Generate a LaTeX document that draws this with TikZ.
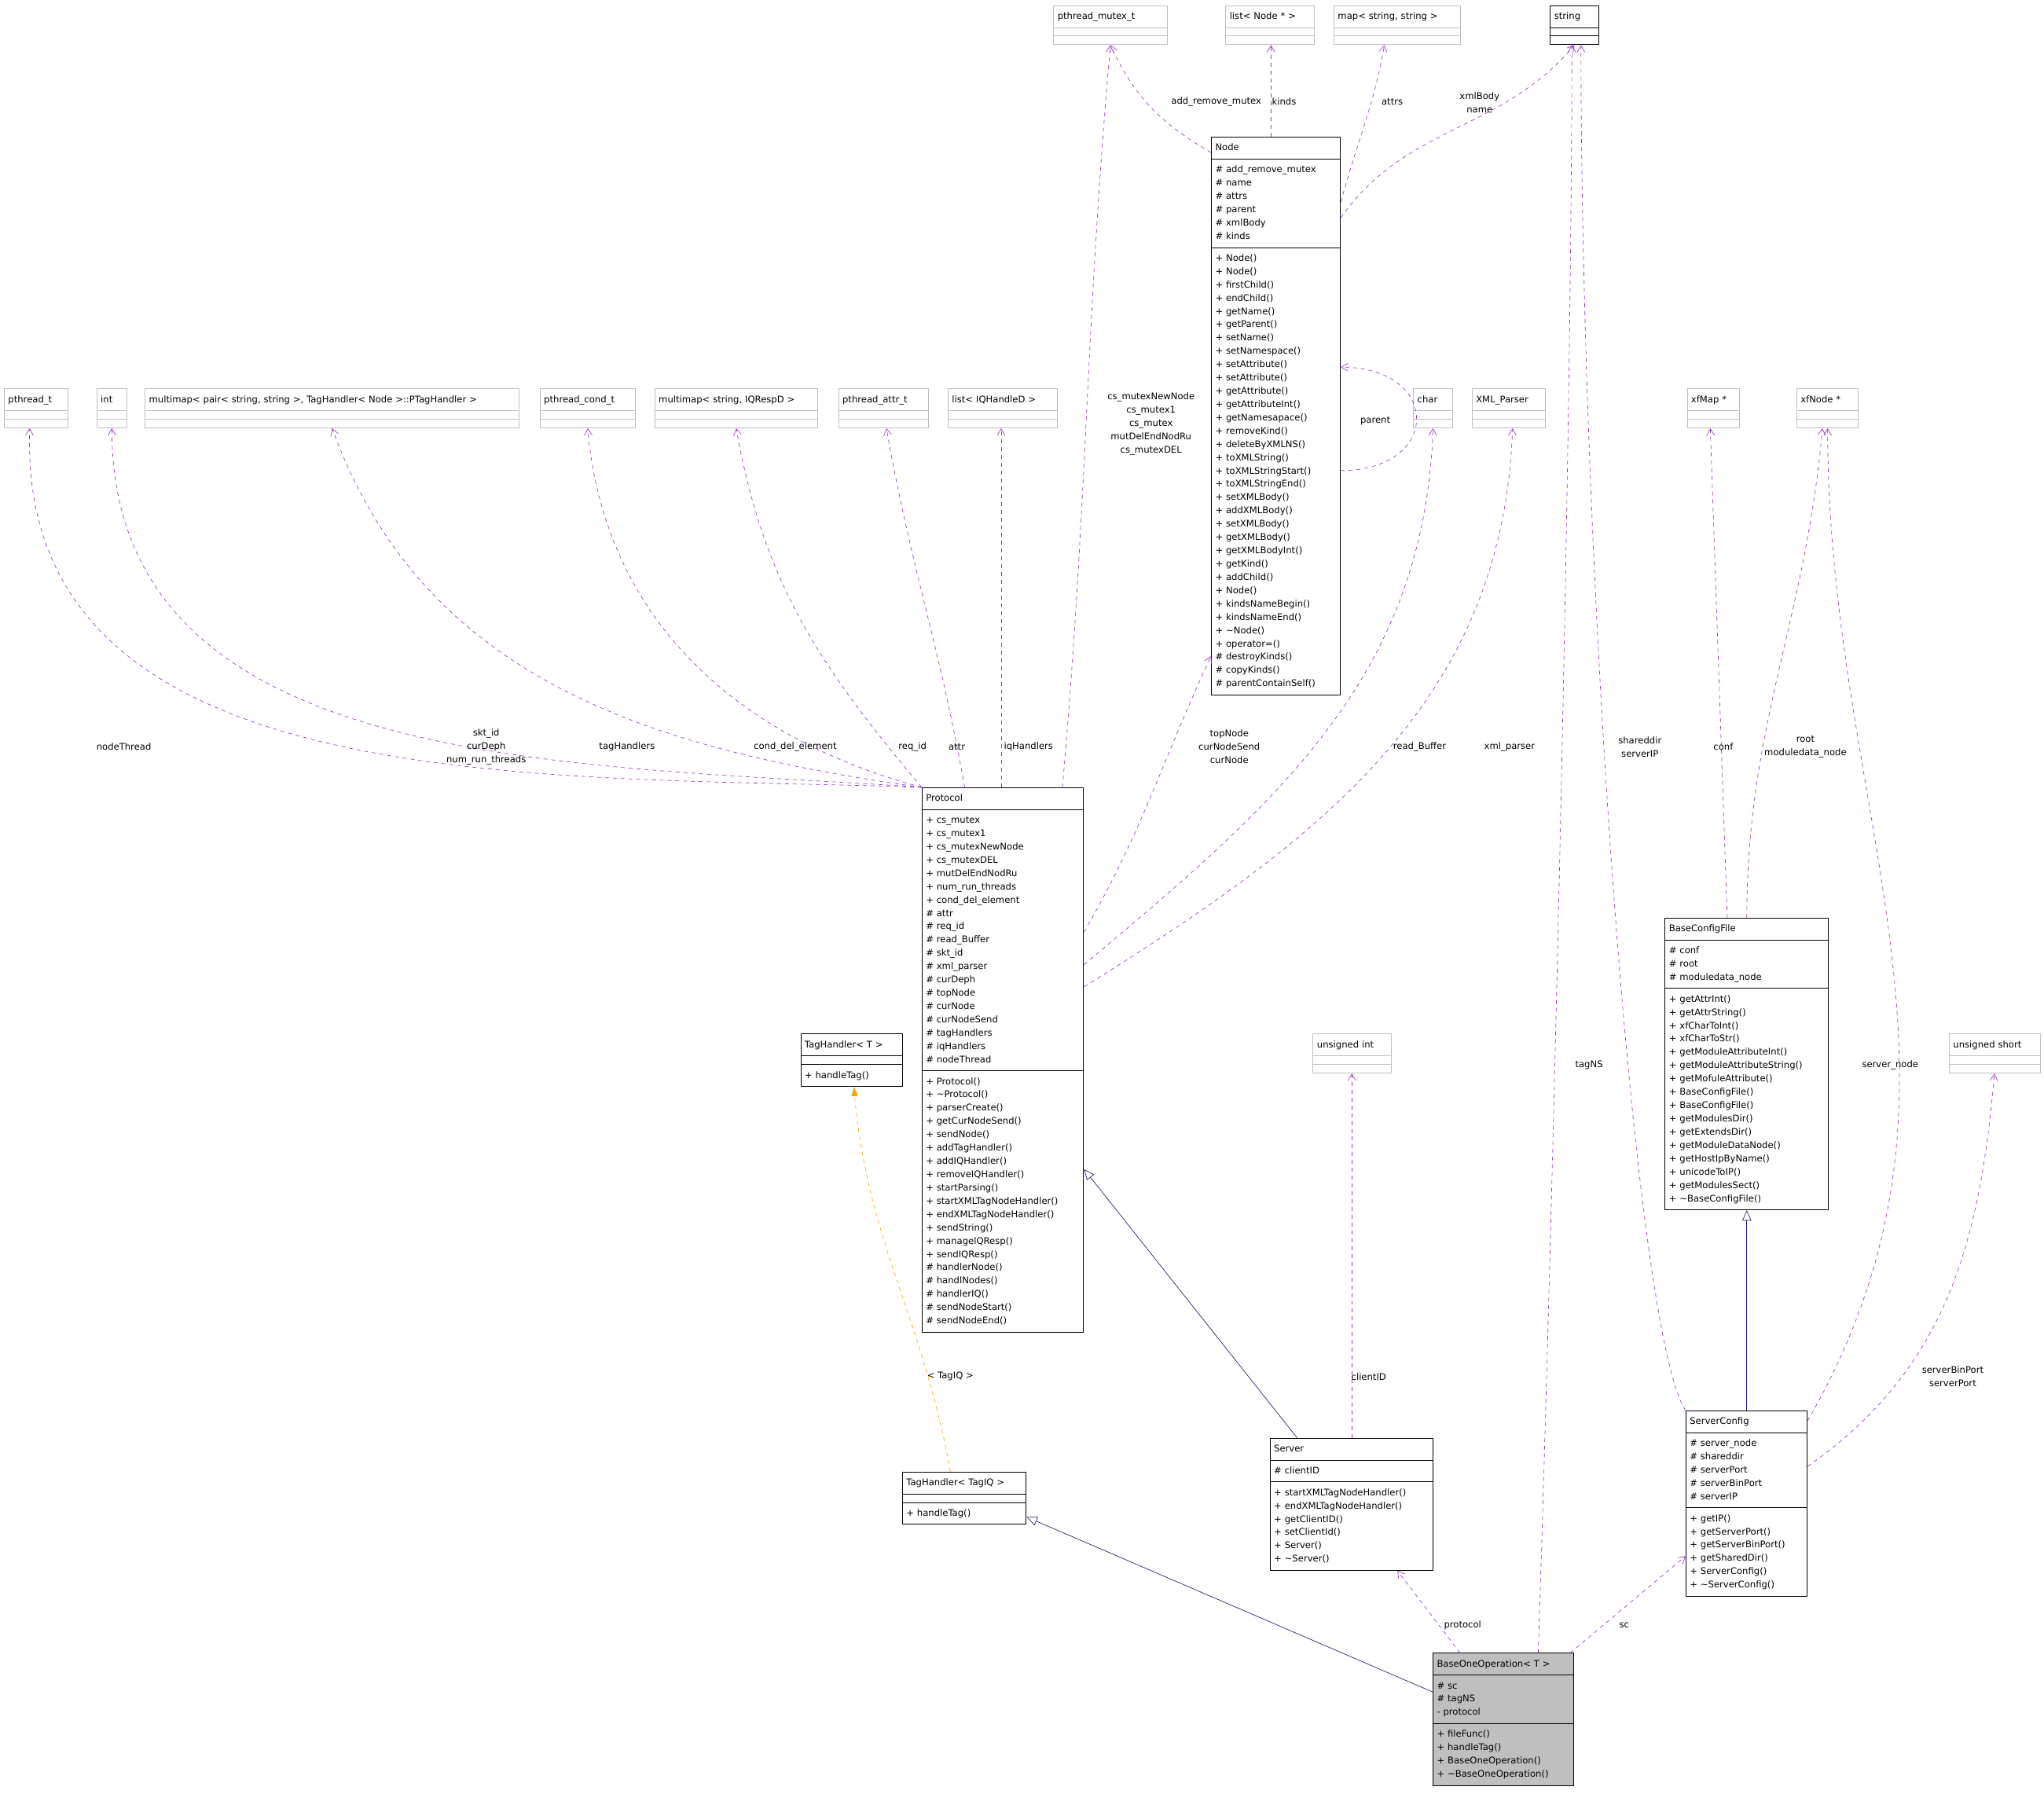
\documentclass[tikz,border=0pt]{standalone}
\usepackage{fontspec}
\setmainfont{DejaVu Sans}
\usetikzlibrary{positioning,shapes.multipart,arrows.meta}
\definecolor{usecol}{HTML}{9A32CD}
\definecolor{gencol}{HTML}{191970}
\definecolor{tplcol}{HTML}{FFA500}
\definecolor{extcol}{HTML}{BFBFBF}
\newcommand{\cfont}{\fontsize{7}{10.2}\selectfont}

\begin{document}
\begin{tikzpicture}[x=1pt,y=-1pt]
\tikzset{
    cls/.style= {rectangle split, rectangle split parts=3, draw=black, anchor=north west,
                 font=\cfont, inner xsep=3pt, inner ysep=3pt, line width=0.6pt,
                 rectangle split part align={center,left,left},
                 rectangle split empty part height=10.5pt},
    ext/.style= {cls, draw=extcol},
    use/.style= {-{Straight Barb[length=5pt,width=6pt]}, dashed, usecol, thin},
    gen/.style= {-{Triangle[open,length=8pt,width=7pt]}, gencol, thin},
    tpl/.style= {-{Triangle[length=7pt,width=5pt]}, dashed, tplcol, thin},
    lbl/.style= {font=\cfont, align=center, inner sep=1pt},
}
\useasboundingbox (0,0) rectangle (1568,1376);

% top row
\node[ext, text width=81pt] (pmutex) at (808,4) {\strut pthread\_mutex\_t\nodepart{two}\nodepart{three}};
\node[ext, text width=62pt] (listnode) at (940,4) {\strut list< Node * >\nodepart{two}\nodepart{three}};
\node[ext, text width=91pt] (mapss) at (1023,4) {\strut map< string, string >\nodepart{two}\nodepart{three}};
\node[cls, text width=31pt] (strg) at (1189,4) {\strut string\nodepart{two}\nodepart{three}};

% second row
\node[ext, text width=43pt] (ptht) at (3,298) {\strut pthread\_t\nodepart{two}\nodepart{three}};
\node[ext, text width=17pt] (int) at (74,298) {\strut int\nodepart{two}\nodepart{three}};
\node[ext, text width=281pt] (mmpair) at (111,298) {\strut multimap< pair< string, string >, TagHandler< Node >::PTagHandler >\nodepart{two}\nodepart{three}};
\node[ext, text width=67pt] (pcond) at (414,298) {\strut pthread\_cond\_t\nodepart{two}\nodepart{three}};
\node[ext, text width=119pt] (mmiq) at (502,298) {\strut multimap< string, IQRespD >\nodepart{two}\nodepart{three}};
\node[ext, text width=63pt] (pattr) at (643,298) {\strut pthread\_attr\_t\nodepart{two}\nodepart{three}};
\node[ext, text width=78pt] (listiq) at (727,298) {\strut list< IQHandleD >\nodepart{two}\nodepart{three}};
\node[ext, text width=24pt] (char) at (1084,298) {\strut char\nodepart{two}\nodepart{three}};
\node[ext, text width=50pt] (xmlp) at (1129,298) {\strut XML\_Parser\nodepart{two}\nodepart{three}};
\node[ext, text width=34pt] (xfmap) at (1294,298) {\strut xfMap *\nodepart{two}\nodepart{three}};
\node[ext, text width=41pt] (xfnode) at (1378,298) {\strut xfNode *\nodepart{two}\nodepart{three}};

% classes
\node[cls, text width=93pt] (node) at (929,105) {\strut Node
\nodepart{two}\strut\# add\_remove\_mutex\\\# name\\\# attrs\\\# parent\\\# xmlBody\\\# kinds\strut
\nodepart{three}\strut+ Node()\\+ Node()\\+ firstChild()\\+ endChild()\\+ getName()\\+ getParent()\\+ setName()\\+ setNamespace()\\+ setAttribute()\\+ setAttribute()\\+ getAttribute()\\+ getAttributeInt()\\+ getNamesapace()\\+ removeKind()\\+ deleteByXMLNS()\\+ toXMLString()\\+ toXMLStringStart()\\+ toXMLStringEnd()\\+ setXMLBody()\\+ addXMLBody()\\+ setXMLBody()\\+ getXMLBody()\\+ getXMLBodyInt()\\+ getKind()\\+ addChild()\\+ Node()\\+ kindsNameBegin()\\+ kindsNameEnd()\\+ \textasciitilde Node()\\+ operator=()\\\# destroyKinds()\\\# copyKinds()\\\# parentContainSelf()\strut};

\node[cls, text width=118pt] (protocol) at (707,604) {\strut Protocol
\nodepart{two}\strut+ cs\_mutex\\+ cs\_mutex1\\+ cs\_mutexNewNode\\+ cs\_mutexDEL\\+ mutDelEndNodRu\\+ num\_run\_threads\\+ cond\_del\_element\\\# attr\\\# req\_id\\\# read\_Buffer\\\# skt\_id\\\# xml\_parser\\\# curDeph\\\# topNode\\\# curNode\\\# curNodeSend\\\# tagHandlers\\\# iqHandlers\\\# nodeThread\strut
\nodepart{three}\strut+ Protocol()\\+ \textasciitilde Protocol()\\+ parserCreate()\\+ getCurNodeSend()\\+ sendNode()\\+ addTagHandler()\\+ addIQHandler()\\+ removeIQHandler()\\+ startParsing()\\+ startXMLTagNodeHandler()\\+ endXMLTagNodeHandler()\\+ sendString()\\+ managelQResp()\\+ sendIQResp()\\\# handlerNode()\\\# handlNodes()\\\# handlerIQ()\\\# sendNodeStart()\\\# sendNodeEnd()\strut};

\node[cls, text width=72pt] (tagT) at (614,793) {\strut TagHandler< T >\nodepart{two}\nodepart{three}\strut+ handleTag()\strut};
\node[ext, text width=54pt] (uint) at (1007,793) {\strut unsigned int\nodepart{two}\nodepart{three}};
\node[ext, text width=64pt] (ushort) at (1495,793) {\strut unsigned short\nodepart{two}\nodepart{three}};

\node[cls, text width=119pt] (bcf) at (1277,704) {\strut BaseConfigFile
\nodepart{two}\strut\# conf\\\# root\\\# moduledata\_node\strut
\nodepart{three}\strut+ getAttrInt()\\+ getAttrString()\\+ xfCharToInt()\\+ xfCharToStr()\\+ getModuleAttributeInt()\\+ getModuleAttributeString()\\+ getMofuleAttribute()\\+ BaseConfigFile()\\+ BaseConfigFile()\\+ getModulesDir()\\+ getExtendsDir()\\+ getModuleDataNode()\\+ getHostIpByName()\\+ unicodeToIP()\\+ getModulesSect()\\+ \textasciitilde BaseConfigFile()\strut};

\node[cls, text width=119pt] (server) at (974,1103) {\strut Server
\nodepart{two}\strut\# clientID\strut
\nodepart{three}\strut+ startXMLTagNodeHandler()\\+ endXMLTagNodeHandler()\\+ getClientID()\\+ setClientId()\\+ Server()\\+ \textasciitilde Server()\strut};

\node[cls, text width=89pt] (tagiq) at (692,1129) {\strut TagHandler< TagIQ >\nodepart{two}\nodepart{three}\strut+ handleTag()\strut};

\node[cls, text width=87pt] (sconf) at (1293,1082) {\strut ServerConfig
\nodepart{two}\strut\# server\_node\\\# shareddir\\\# serverPort\\\# serverBinPort\\\# serverIP\strut
\nodepart{three}\strut+ getIP()\\+ getServerPort()\\+ getServerBinPort()\\+ getSharedDir()\\+ ServerConfig()\\+ \textasciitilde ServerConfig()\strut};

\node[cls, text width=102pt, fill=extcol] (boo) at (1099,1268) {\strut BaseOneOperation< T >
\nodepart{two}\strut\# sc\\\# tagNS\\- protocol\strut
\nodepart{three}\strut+ fileFunc()\\+ handleTag()\\+ BaseOneOperation()\\+ \textasciitilde BaseOneOperation()\strut};

% Node members
\draw[use] ([yshift=-12pt]node.north west) to[out=150,in=-65] (pmutex.south);
\draw[use] ([xshift=46pt]node.north west) -- ([xshift=35pt]listnode.south west);
\draw[use] ([yshift=-50pt]node.north east) to[out=75,in=-100] ([xshift=39pt]mapss.south west);
\draw[use] ([yshift=-62pt]node.north east) to[out=55,in=-130] (strg.south);
\draw[use] (node.-40) to[out=0,in=0,looseness=2.5] (node.37);

% Protocol members
\draw[use] ([xshift=108pt]protocol.north west) to[out=85,in=-95] (pmutex.south);
\draw[use] ([xshift=61pt]protocol.north west) -- ([xshift=41pt]listiq.south west);
\draw[use] ([xshift=33pt]protocol.north west) to[out=100,in=-80] ([xshift=37pt]pattr.south west);
\draw[use] (protocol.north west) to[out=130,in=-80] (mmiq.south);
\draw[use] (protocol.north west) to[out=165,in=-85] (pcond.south);
\draw[use] (protocol.north west) to[out=172,in=-70] (mmpair.south);
\draw[use] (protocol.north west) to[out=176,in=-90] (int.south);
\draw[use] (protocol.north west) to[out=178,in=-92] ([xshift=-5pt]ptht.south);
\draw[use] ([yshift=-111pt]protocol.north east) to[out=60,in=-115] ([yshift=30pt]node.south west);
\draw[use] ([yshift=-136pt]protocol.north east) to[out=40,in=-92] (char.south);
\draw[use] ([yshift=-153pt]protocol.north east) to[out=32,in=-92] ([xshift=3pt]xmlp.south);

% BaseConfigFile, ServerConfig
\draw[use] ([xshift=48pt]bcf.north west) -- ([xshift=18pt]xfmap.south west);
\draw[use] ([xshift=63pt]bcf.north west) to[out=90,in=-95] ([xshift=20pt]xfnode.south west);
\draw[gen] ([xshift=47pt]sconf.north west) -- ([xshift=63pt]bcf.south west);
\draw[use] ([yshift=-8pt]sconf.north east) to[out=60,in=-90] ([xshift=24pt]xfnode.south west);
\draw[use] ([yshift=-43pt]sconf.north east) to[out=35,in=-95] ([xshift=35pt]ushort.south west);
\draw[use] (sconf.north west) .. controls +(-40,-60) and +(0,400) .. ([xshift=5pt]strg.south);

% Server, templates, BaseOneOperation
\draw[gen] ([xshift=21pt]server.north west) -- ([yshift=-293pt]protocol.north east);
\draw[use] ([xshift=63pt]server.north west) -- ([xshift=30pt]uint.south west);
\draw[tpl] ([xshift=37pt]tagiq.north west) to[out=100,in=-85] ([xshift=41pt]tagT.south west);
\draw[gen] ([yshift=-30pt]boo.north west) -- ([yshift=6pt]tagiq.south east);
\draw[use] ([xshift=21pt]boo.north west) -- ([xshift=98pt]server.south west);
\draw[use] ([xshift=-3pt]boo.north east) -- ([yshift=31pt]sconf.south west);
\draw[use] ([xshift=81pt]boo.north west) .. controls +(10,-300) and +(0,300) .. ([xshift=-2pt]strg.south);

% labels
\node[lbl] (l_arm) at (933,78) {add\_remove\_mutex};
\node[lbl] (l_kinds) at (985,78) {kinds};
\node[lbl] (l_attrs) at (1068,78) {attrs};
\node[lbl] (l_xml) at (1135,79) {xmlBody\\name};
\node[lbl] (l_parent) at (1055,323) {parent};
\node[lbl] (l_csm) at (883,325) {cs\_mutexNewNode\\cs\_mutex1\\cs\_mutex\\mutDelEndNodRu\\cs\_mutexDEL};
\node[lbl] (l_nt) at (95,573) {nodeThread};
\node[lbl] (l_skt) at (373,573) {skt\_id\\curDeph\\num\_run\_threads};
\node[lbl] (l_tagh) at (481,573) {tagHandlers};
\node[lbl] (l_cond) at (610,573) {cond\_del\_element};
\node[lbl] (l_req) at (700,573) {req\_id};
\node[lbl] (l_attr) at (734,573) {attr};
\node[lbl] (l_iqh) at (789,573) {iqHandlers};
\node[lbl] (l_top) at (943,573) {topNode\\curNodeSend\\curNode};
\node[lbl] (l_rb) at (1089,573) {read\_Buffer};
\node[lbl] (l_xp) at (1158,573) {xml\_parser};
\node[lbl] (l_shd) at (1258,573) {shareddir\\serverIP};
\node[lbl] (l_conf) at (1322,573) {conf};
\node[lbl] (l_root) at (1385,573) {root\\moduledata\_node};
\node[lbl] (l_tagns) at (1219,817) {tagNS};
\node[lbl] (l_sn) at (1450,817) {server\_node};
\node[lbl] (l_cid) at (1050,1056) {clientID};
\node[lbl] (l_tiq) at (729,1056) {< TagIQ >};
\node[lbl] (l_sbp) at (1498,1056) {serverBinPort\\serverPort};
\node[lbl] (l_prot) at (1122,1247) {protocol};
\node[lbl] (l_sc) at (1246,1247) {sc};
\end{tikzpicture}
\end{document}
